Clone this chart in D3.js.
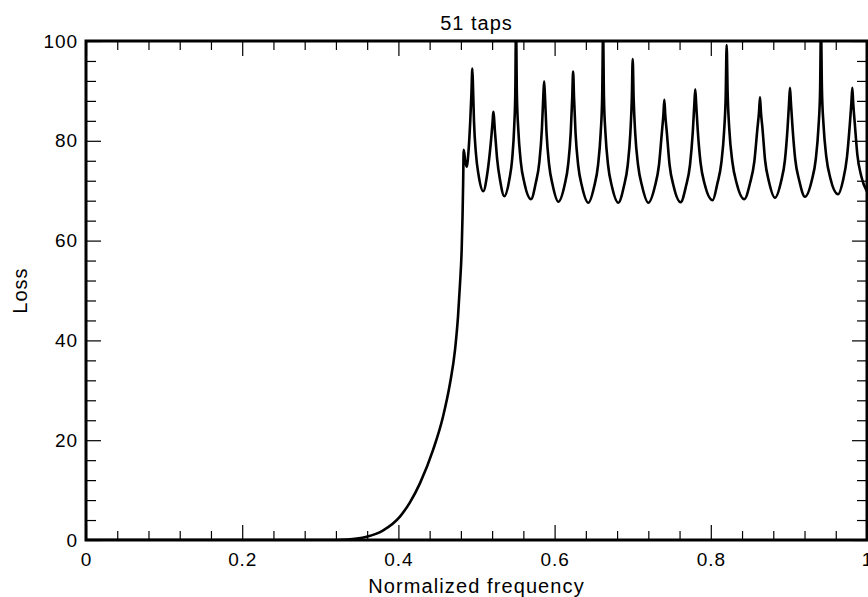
<!DOCTYPE html>
<html>
<head>
<meta charset="utf-8">
<script src="https://cdn.jsdelivr.net/npm/d3@7"></script>
<style>
  html, body { margin: 0; padding: 0; background: #fff; }
  svg text { font-family: "Liberation Sans", Arial, Helvetica, sans-serif; fill: #000; }
</style>
</head>
<body>
<div id="chart"></div>
<script>
// loss (dB) vs normalized frequency
const passband = [
  [0, 0], [0.32, 0], [0.335, 0.08], [0.347, 0.28], [0.3593, 0.66], [0.38, 1.9]
];

const transition = [
  [0.402, 4.7], [0.415, 7.6], [0.4277, 11.4], [0.4443, 18.0], [0.4571, 24.7], [0.4661, 31.4],
  [0.4725, 38.1], [0.4763, 44.7], [0.4789, 51.4], [0.4810, 58.1], [0.4821, 64.8], [0.4829, 71.5],
  [0.4836, 78.2], [0.4855, 76], [0.4874, 74.8], [0.4898, 78], [0.492, 84], [0.4935, 89.5]
];

const stopband = [
  [0.4947, 94.5],
  [0.4955, 90.9], [0.4968, 83.9], [0.4993, 77.4], [0.5027, 73.1], [0.5087, 69.9], [0.5135, 73.1], [0.5169, 77.4], [0.5194, 81.5], [0.5207, 84.0],
  [0.5215, 85.8],
  [0.5238, 81.5], [0.5264, 76.4], [0.5302, 72.1], [0.5356, 68.9], [0.5419, 72.1], [0.5457, 76.4], [0.5483, 82.9], [0.5497, 89.9],
  [0.5506, 104],
  [0.5517, 89.3], [0.5535, 82.3], [0.5567, 75.8], [0.5614, 71.5], [0.5698, 68.3], [0.5758, 71.5], [0.5805, 75.8], [0.5837, 82.3], [0.5855, 88.8],
  [0.5866, 91.9],
  [0.5877, 88.8], [0.5896, 81.8], [0.5929, 75.3], [0.5977, 71.0], [0.6048, 67.8], [0.6126, 71.0], [0.6174, 75.3], [0.6207, 81.8], [0.6226, 88.8],
  [0.6237, 93.9],
  [0.6249, 88.6], [0.6268, 81.6], [0.6302, 75.1], [0.6352, 70.8], [0.6432, 67.6], [0.6506, 70.8], [0.6556, 75.1], [0.6590, 81.6], [0.6609, 88.6],
  [0.6621, 102],
  [0.6632, 88.6], [0.6651, 81.6], [0.6685, 75.1], [0.6735, 70.8], [0.6816, 67.6], [0.6886, 70.8], [0.6936, 75.1], [0.6970, 81.6], [0.6989, 88.6],
  [0.7000, 96.4],
  [0.7012, 88.6], [0.7032, 81.6], [0.7069, 75.1], [0.7122, 70.8], [0.7200, 67.6], [0.7283, 70.8], [0.7336, 75.1], [0.7373, 81.6], [0.7393, 85.2],
  [0.7405, 88.2],
  [0.7417, 85.2], [0.7437, 81.7], [0.7472, 75.2], [0.7524, 70.9], [0.7614, 67.7], [0.7682, 70.9], [0.7734, 75.2], [0.7769, 81.7], [0.7789, 87.3],
  [0.7801, 90.3],
  [0.7813, 87.3], [0.7833, 82.1], [0.7869, 75.6], [0.7922, 71.3], [0.8024, 68.1], [0.8082, 71.3], [0.8135, 75.6], [0.8171, 82.1], [0.8191, 89.1],
  [0.8203, 99.2],
  [0.8216, 89.3], [0.8237, 82.3], [0.8276, 75.8], [0.8331, 71.5], [0.8429, 68.3], [0.8502, 71.5], [0.8557, 75.8], [0.8596, 82.3], [0.8617, 85.7],
  [0.8630, 88.7],
  [0.8642, 85.7], [0.8661, 82.6], [0.8695, 76.1], [0.8745, 71.8], [0.8822, 68.6], [0.8899, 71.8], [0.8949, 76.1], [0.8983, 82.6], [0.9002, 87.6],
  [0.9014, 90.6],
  [0.9026, 87.6], [0.9046, 82.8], [0.9081, 76.3], [0.9133, 72.0], [0.9206, 68.8], [0.9292, 72.0], [0.9344, 76.3], [0.9379, 82.8], [0.9399, 89.8],
  [0.9411, 103],
  [0.9423, 90.3], [0.9443, 83.3], [0.9479, 76.8], [0.9531, 72.5], [0.9630, 69.3], [0.9692, 72.0], [0.9744, 76.8], [0.9780, 83.3], [0.9800, 87.6],
  [0.9812, 90.6],
  [0.9823, 87.6], [0.9842, 83.8], [0.9876, 77.3], [0.9925, 73.0], [1.0, 69.8]
];

const xMajor = [0, 0.2, 0.4, 0.6, 0.8, 1];
const xLabels = ["0", "0.2", "0.4", "0.6", "0.8", "1"];
const xMinor = [0.04, 0.08, 0.12, 0.16, 0.24, 0.28, 0.32, 0.36, 0.44, 0.48, 0.52, 0.56, 0.64, 0.68, 0.72, 0.76, 0.84, 0.88, 0.92, 0.96];
const yMajor = [0, 20, 40, 60, 80, 100];
const yMinor = [4, 8, 12, 16, 24, 28, 32, 36, 44, 48, 52, 56, 64, 68, 72, 76, 84, 88, 92, 96];

const title = "51 taps";
const xTitle = "Normalized frequency";
const yTitle = "Loss";

const W = 868, H = 597;
const margin = { left: 86, right: 1, top: 41, bottom: 57 };

const svg = d3.select("#chart").append("svg")
  .attr("width", W)
  .attr("height", H);

const x = d3.scaleLinear().domain([0, 1]).range([margin.left, W - margin.right]);
const y = d3.scaleLinear().domain([0, 100]).range([H - margin.bottom, margin.top]);

const points = passband.concat(transition, stopband);

svg.append("clipPath")
  .attr("id", "plot-clip")
  .append("rect")
  .attr("x", x(0)).attr("y", y(100))
  .attr("width", x(1) - x(0)).attr("height", y(0) - y(100));

const line = d3.line()
  .x(d => x(d[0]))
  .y(d => y(d[1]))
  .curve(d3.curveMonotoneX);

svg.append("path")
  .datum(points)
  .attr("clip-path", "url(#plot-clip)")
  .attr("fill", "none")
  .attr("stroke", "#000")
  .attr("stroke-width", 2.6)
  .attr("stroke-linejoin", "round")
  .attr("d", line);

// ticks point inward on all four sides
function ticks(axis, values, size, pos, withLabels) {
  const g = svg.append("g")
    .attr("transform", "translate(" + pos + ")")
    .call(axis.tickValues(values).tickSize(-size)
      .tickFormat(withLabels ? (d, i) => withLabels[i] : ""));
  g.select(".domain").remove();
  g.selectAll(".tick line").attr("stroke", "#000").attr("stroke-width", 1.2);
  g.selectAll(".tick text")
    .attr("font-size", 19)
    .attr("letter-spacing", "0.9px")
    .attr("font-family", null);
  return g;
}

ticks(d3.axisBottom(x).tickPadding(12.5), xMajor, 15, [0, y(0)], xLabels);
ticks(d3.axisBottom(x), xMinor, 9, [0, y(0)], null);
ticks(d3.axisTop(x), xMajor, 15, [0, y(100)], null);
ticks(d3.axisTop(x), xMinor, 9, [0, y(100)], null);
ticks(d3.axisLeft(y).tickPadding(8), yMajor, 15, [x(0), 0], yMajor.map(String));
ticks(d3.axisLeft(y), yMinor, 10, [x(0), 0], null);
ticks(d3.axisRight(y), yMajor, 15, [x(1), 0], null);
ticks(d3.axisRight(y), yMinor, 10, [x(1), 0], null);

// frame
svg.append("rect")
  .attr("x", x(0)).attr("y", y(100))
  .attr("width", x(1) - x(0)).attr("height", y(0) - y(100))
  .attr("fill", "none")
  .attr("stroke", "#000")
  .attr("stroke-width", 3);

svg.append("text")
  .attr("x", (x(0) + x(1)) / 2)
  .attr("y", 30)
  .attr("text-anchor", "middle")
  .attr("font-size", 20)
  .attr("letter-spacing", "1px")
  .text(title);

svg.append("text")
  .attr("x", (x(0) + x(1)) / 2)
  .attr("y", 593)
  .attr("text-anchor", "middle")
  .attr("font-size", 20)
  .attr("letter-spacing", "1.1px")
  .text(xTitle);

svg.append("text")
  .attr("transform", "translate(27," + ((y(0) + y(100)) / 2) + ") rotate(-90)")
  .attr("text-anchor", "middle")
  .attr("font-size", 20)
  .attr("letter-spacing", "1px")
  .text(yTitle);
</script>
</body>
</html>
